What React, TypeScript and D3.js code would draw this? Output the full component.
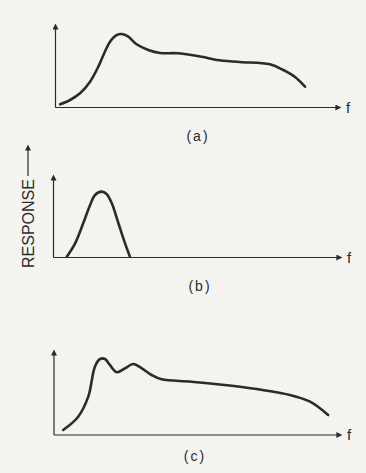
import React from 'react';
import * as d3 from 'd3';

// frequency (0-100 along the axis) and response (0-100 up the axis)
const freqA = [1.6, 5.1, 8.6, 12.1, 15.0, 17.3, 19.1, 21.4, 23.2, 25.5, 28.4, 32.5, 36.6, 43.0, 51.2, 56.5, 64.6, 75.1, 79.8, 83.9, 87.4];
const respA = [3.8, 9.0, 17.0, 30.9, 48.9, 66.8, 78.8, 86.8, 88.0, 84.8, 75.7, 68.9, 65.3, 64.9, 60.8, 56.9, 54.5, 51.7, 44.9, 36.5, 24.9];

const freqB = [4.6, 7.5, 10.3, 12.7, 14.4, 16.7, 18.4, 20.2, 22.5, 24.8, 26.5];
const respB = [1, 17.2, 41.5, 63.6, 75.8, 79.8, 77.0, 65.7, 41.5, 17.2, 1];

const freqC = [3.2, 8.4, 11.9, 14.2, 16.0, 17.7, 19.4, 21.8, 24.7, 27.5, 30.5, 33.9, 37.4, 47.8, 64.6, 81.9, 88.9, 95.2];
const respC = [5.9, 21.5, 45.1, 80.4, 89.4, 89.4, 82.4, 73.8, 78.5, 83.5, 78.5, 70.6, 65.5, 62.7, 56.8, 47.1, 39.2, 23.5];

const panelLabels = ['(a)', '(b)', '(c)'];
const axisLabel = 'f';
const yLabel = 'RESPONSE';

const ink = '#2b2b2b';
const font = 'Liberation Sans, Arial, sans-serif';

const panels = [
  { f: freqA, r: respA, left: 55.5, right: 341, bottom: 107.5, top: 24, labelX: 198, labelY: 141 },
  { f: freqB, r: respB, left: 53.5, right: 342, bottom: 257.5, top: 175, labelX: 200, labelY: 291 },
  { f: freqC, r: respC, left: 54, right: 342, bottom: 435, top: 350, labelX: 195, labelY: 461 },
];

const Panel = ({ p, label }: { p: typeof panels[0]; label: string }) => {
  const x = d3.scaleLinear().domain([0, 100]).range([p.left, p.right]);
  const y = d3.scaleLinear().domain([0, 100]).range([p.bottom, p.top]);
  const pts = p.f.map((f, i) => [f, p.r[i]] as [number, number]);
  const line = d3.line<[number, number]>()
    .x(d => x(d[0]))
    .y(d => y(d[1]))
    .curve(d3.curveCatmullRom.alpha(0.5));

  return (
    <g>
      <line x1={x(0)} x2={x(0)} y1={y(0)} y2={y(100) + 5} stroke={ink} strokeWidth={1.2} markerEnd="url(#arr)" />
      <line x1={x(0)} x2={x(100) - 5} y1={y(0)} y2={y(0)} stroke={ink} strokeWidth={1.2} markerEnd="url(#arr)" />
      <path d={line(pts) || ''} fill="none" stroke={ink} strokeWidth={2.6} strokeLinecap="round" />
      <text x={x(100) + 5} y={y(0) + 5} fontSize={15} fontFamily={font} fill={ink}>{axisLabel}</text>
      <text x={p.labelX} y={p.labelY} textAnchor="middle" fontSize={14} letterSpacing={2}
        fontFamily={font} fill={ink}>{label}</text>
    </g>
  );
};

export default function App() {
  return (
    <svg width={366} height={473} style={{ position: 'absolute', left: 0, top: 0, background: '#f3f3f0' }}>
      <defs>
        <marker id="arr" viewBox="0 0 10 10" refX={1} refY={5} markerWidth={8} markerHeight={6}
          markerUnits="userSpaceOnUse" orient="auto">
          <path d="M0,0 L10,5 L0,10 z" fill={ink} />
        </marker>
      </defs>
      {panels.map((p, i) => <Panel key={i} p={p} label={panelLabels[i]} />)}
      <text transform="translate(33.5,268) rotate(-90)" fontSize={16} fontFamily={font}
        fill={ink}>{yLabel}</text>
      <line x1={28} x2={28} y1={176} y2={150} stroke={ink} strokeWidth={1.2} markerEnd="url(#arr)" />
    </svg>
  );
}
